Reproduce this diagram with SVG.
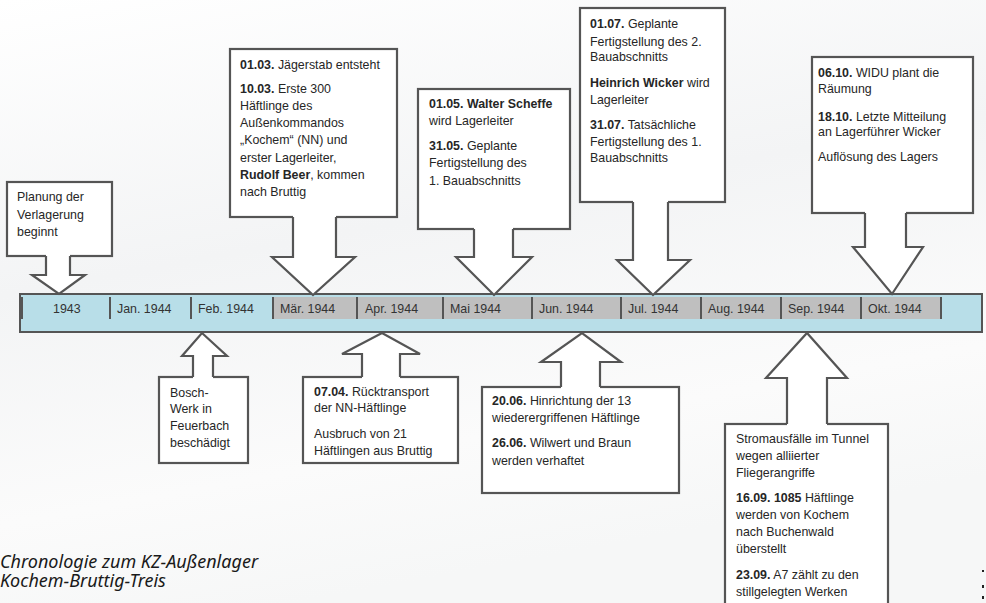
<svg xmlns="http://www.w3.org/2000/svg" width="986" height="603" viewBox="0 0 986 603">
<defs>
<linearGradient id="bg" x1="0" y1="0" x2="0.3" y2="1">
<stop offset="0" stop-color="#ffffff"/>
<stop offset="0.45" stop-color="#f3f4f5"/>
<stop offset="0.8" stop-color="#fbfbfb"/>
<stop offset="1" stop-color="#f6f7f7"/>
</linearGradient>
<style>
.box{fill:#ffffff;stroke:#555555;stroke-width:2.2}
.af{fill:#ffffff;stroke:none}
.as{fill:none;stroke:#555555;stroke-width:2.2;stroke-linejoin:miter}
.t{font-family:"Liberation Sans",Arial,sans-serif;font-size:12.4px;fill:#262626}
.b{font-weight:bold}
.lab{font-family:"Liberation Sans",Arial,sans-serif;font-size:12.4px;fill:#333333}
.div{stroke:#555555;stroke-width:2}
.cap{font-family:"Noto Sans","Open Sans",sans-serif;font-style:italic;font-size:18px;fill:#1a1a1a}
</style>
</defs>
<rect x="0" y="0" width="986" height="603" fill="url(#bg)"/>

<g id="timeline">
<rect x="20" y="294" width="962" height="38" fill="#b8dee8" stroke="#555555" stroke-width="2"/>
<rect x="273" y="297" width="668" height="22" fill="#bfbfbf"/>
<line class="div" x1="22" y1="297" x2="22" y2="319"/>
<line class="div" x1="110" y1="297" x2="110" y2="319"/>
<line class="div" x1="191" y1="297" x2="191" y2="319"/>
<line class="div" x1="273" y1="297" x2="273" y2="319"/>
<line class="div" x1="357" y1="297" x2="357" y2="319"/>
<line class="div" x1="443" y1="297" x2="443" y2="319"/>
<line class="div" x1="532" y1="297" x2="532" y2="319"/>
<line class="div" x1="621" y1="297" x2="621" y2="319"/>
<line class="div" x1="701" y1="297" x2="701" y2="319"/>
<line class="div" x1="781" y1="297" x2="781" y2="319"/>
<line class="div" x1="861" y1="297" x2="861" y2="319"/>
<line class="div" x1="941" y1="297" x2="941" y2="319"/>
<text class="lab" x="53" y="313">1943</text>
<text class="lab" x="117" y="313">Jan. 1944</text>
<text class="lab" x="198" y="313">Feb. 1944</text>
<text class="lab" x="280" y="313">Mär. 1944</text>
<text class="lab" x="365" y="313">Apr. 1944</text>
<text class="lab" x="450" y="313">Mai 1944</text>
<text class="lab" x="539" y="313">Jun. 1944</text>
<text class="lab" x="628" y="313">Jul. 1944</text>
<text class="lab" x="708" y="313">Aug. 1944</text>
<text class="lab" x="788" y="313">Sep. 1944</text>
<text class="lab" x="868" y="313">Okt. 1944</text>
</g>

<g id="node-planung">
<rect class="box" x="7" y="182" width="105" height="74"/>
<text class="t" x="17" y="201">Planung der</text>
<text class="t" x="17" y="219">Verlagerung</text>
<text class="t" x="17" y="236">beginnt</text>
</g>

<g id="node-maerz">
<rect class="box" x="230" y="49" width="167" height="168"/>
<text class="t" x="240" y="69"><tspan class="b">01.03.</tspan> Jägerstab entsteht</text>
<text class="t" x="240" y="93"><tspan class="b">10.03.</tspan> Erste 300</text>
<text class="t" x="240" y="110">Häftlinge des</text>
<text class="t" x="240" y="127">Außenkommandos</text>
<text class="t" x="240" y="144">„Kochem“ (NN) und</text>
<text class="t" x="240" y="162">erster Lagerleiter,</text>
<text class="t" x="240" y="179"><tspan class="b">Rudolf Beer</tspan>, kommen</text>
<text class="t" x="240" y="196">nach Bruttig</text>
</g>

<g id="node-mai">
<rect class="box" x="418" y="89" width="152" height="140"/>
<text class="t" x="429" y="108"><tspan class="b">01.05. Walter Scheffe</tspan></text>
<text class="t" x="429" y="125">wird Lagerleiter</text>
<text class="t" x="429" y="150"><tspan class="b">31.05.</tspan> Geplante</text>
<text class="t" x="429" y="167">Fertigstellung des</text>
<text class="t" x="429" y="185">1. Bauabschnitts</text>
</g>

<g id="node-juli">
<rect class="box" x="580" y="8" width="145" height="194"/>
<text class="t" x="590" y="28"><tspan class="b">01.07.</tspan> Geplante</text>
<text class="t" x="590" y="46">Fertigstellung des 2.</text>
<text class="t" x="590" y="61">Bauabschnitts</text>
<text class="t" x="590" y="87"><tspan class="b">Heinrich Wicker</tspan> wird</text>
<text class="t" x="590" y="104">Lagerleiter</text>
<text class="t" x="590" y="129"><tspan class="b">31.07.</tspan> Tatsächliche</text>
<text class="t" x="590" y="146">Fertigstellung des 1.</text>
<text class="t" x="590" y="162">Bauabschnitts</text>
</g>

<g id="node-oktober">
<rect class="box" x="812" y="57" width="161" height="156"/>
<text class="t" x="818" y="77"><tspan class="b">06.10.</tspan> WIDU plant die</text>
<text class="t" x="818" y="93">Räumung</text>
<text class="t" x="818" y="121"><tspan class="b">18.10.</tspan> Letzte Mitteilung</text>
<text class="t" x="818" y="136">an Lagerführer Wicker</text>
<text class="t" x="818" y="161">Auflösung des Lagers</text>
</g>

<g id="node-februar">
<rect class="box" x="159" y="377" width="89" height="86"/>
<text class="t" x="170" y="397">Bosch-</text>
<text class="t" x="170" y="413">Werk in</text>
<text class="t" x="170" y="430">Feuerbach</text>
<text class="t" x="170" y="447">beschädigt</text>
</g>

<g id="node-april">
<rect class="box" x="303" y="377" width="155" height="86"/>
<text class="t" x="314" y="396"><tspan class="b">07.04.</tspan> Rücktransport</text>
<text class="t" x="314" y="412">der NN-Häftlinge</text>
<text class="t" x="314" y="438">Ausbruch von 21</text>
<text class="t" x="314" y="455">Häftlingen aus Bruttig</text>
</g>

<g id="node-juni">
<rect class="box" x="482" y="387" width="197" height="106"/>
<text class="t" x="492" y="405"><tspan class="b">20.06.</tspan> Hinrichtung der 13</text>
<text class="t" x="492" y="422">wiederergriffenen Häftlinge</text>
<text class="t" x="492" y="447"><tspan class="b">26.06.</tspan> Wilwert und Braun</text>
<text class="t" x="492" y="465">werden verhaftet</text>
</g>

<g id="node-september">
<rect class="box" x="725" y="424" width="163" height="190"/>
<text class="t" x="736" y="443">Stromausfälle im Tunnel</text>
<text class="t" x="736" y="460">wegen alliierter</text>
<text class="t" x="736" y="477">Fliegerangriffe</text>
<text class="t" x="736" y="502"><tspan class="b">16.09. 1085</tspan> Häftlinge</text>
<text class="t" x="736" y="519">werden von Kochem</text>
<text class="t" x="736" y="536">nach Buchenwald</text>
<text class="t" x="736" y="553">überstellt</text>
<text class="t" x="736" y="579"><tspan class="b">23.09.</tspan> A7 zählt zu den</text>
<text class="t" x="736" y="596">stillgelegten Werken</text>
</g>

<g id="connectors">
<path class="af" d="M46,254 V275 H32 L59,294 L85,275 H70 V254 Z"/>
<path class="as" d="M46,256 V275 H32 L59,294 L85,275 H70 V256"/>
<path class="af" d="M293,215 V257 H272 L313,295 L355,257 H336 V215 Z"/>
<path class="as" d="M293,217 V257 H272 L313,295 L355,257 H336 V217"/>
<path class="af" d="M474,227 V257 H456 L494,295 L532,257 H513 V227 Z"/>
<path class="as" d="M474,229 V257 H456 L494,295 L532,257 H513 V229"/>
<path class="af" d="M633,200 V260 H617 L653,295 L690,260 H668 V200 Z"/>
<path class="as" d="M633,202 V260 H617 L653,295 L690,260 H668 V202"/>
<path class="af" d="M865,211 V247 H853 L892,294 L923,247 H906 V211 Z"/>
<path class="as" d="M865,213 V247 H853 L892,294 L923,247 H906 V213"/>
<path class="af" d="M193,379 V356 H182 L202,333 L227,356 H213 V379 Z"/>
<path class="as" d="M193,377 V356 H182 L202,333 L227,356 H213 V377"/>
<path class="af" d="M362,379 V354 H342 L382,333 L420,354 H400 V379 Z"/>
<path class="as" d="M362,377 V354 H342 L382,333 L420,354 H400 V377"/>
<path class="af" d="M561,389 V362 H541 L582,333 L621,362 H600 V389 Z"/>
<path class="as" d="M561,387 V362 H541 L582,333 L621,362 H600 V387"/>
<path class="af" d="M787,426 V378 H766 L807,333 L847,378 H827 V426 Z"/>
<path class="as" d="M787,424 V378 H766 L807,333 L847,378 H827 V424"/>
</g>

<g id="caption">
<text class="cap" x="0" y="568">Chronologie zum KZ-Außenlager</text>
<text class="cap" x="0" y="587">Kochem-Bruttig-Treis</text>
</g>
<g id="edge-marks" fill="#222222">
<rect x="982" y="570" width="2" height="2"/>
<rect x="982" y="585" width="2" height="3"/>
<rect x="982" y="596" width="2" height="3"/>
</g>
</svg>
